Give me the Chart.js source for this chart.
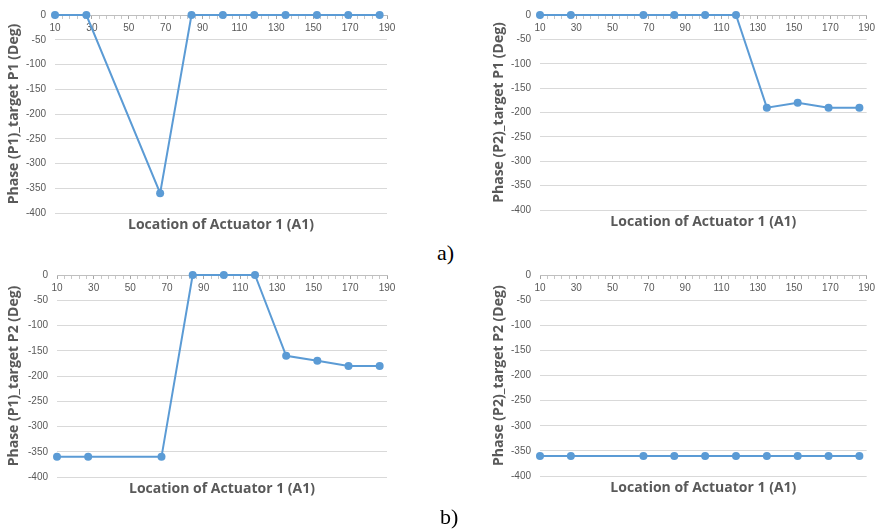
<!DOCTYPE html>
<html lang="en">
<head>
  <meta charset="UTF-8">
  <title>Phase vs actuator location</title>
  <script src="https://cdn.jsdelivr.net/npm/chart.js"></script>
  <style>
    body { margin: 0; background: #fff; }
    #wrap { position: relative; width: 879px; height: 531px; overflow: hidden; }
    canvas { position: absolute; }
    .tag { position: absolute; font-family: "Liberation Serif", serif; font-size: 22px; line-height: 1; color: #000; }
  </style>
</head>
<body>
  <div id="wrap">
    <canvas id="c1" width="410" height="240" style="left:0;top:0"></canvas>
    <canvas id="c2" width="439" height="240" style="left:440px;top:0"></canvas>
    <div class="tag" style="left:437px;top:242px">a)</div>
    <canvas id="c3" width="410" height="271" style="left:0;top:260px"></canvas>
    <canvas id="c4" width="439" height="271" style="left:440px;top:260px"></canvas>
    <div class="tag" style="left:440px;top:506px">b)</div>
  </div>

  <script>
    // Data
    var actuatorLocation = [10, 27, 67, 84, 101, 118, 135, 152, 169, 186];
    var phaseP1TargetP1 = [0, 0, -360, 0, 0, 0, 0, 0, 0, 0];
    var phaseP2TargetP1 = [0, 0, 0, 0, 0, 0, -190, -180, -190, -190];
    var phaseP1TargetP2 = [-360, -360, -360, 0, 0, 0, -160, -170, -180, -180];
    var phaseP2TargetP2 = [-360, -360, -360, -360, -360, -360, -360, -360, -360, -360];

    // Axis settings
    var xMin = 10, xMax = 190, xMajorStep = 20, xMinorStep = 4;
    var yMin = -400, yMax = 0, yStep = 50;
    var xTitle = 'Location of Actuator 1 (A1)';

    var blue = '#5B9BD5';
    var textGray = '#595959';

    var xTickValues = [];
    for (var v = xMin; v <= xMax; v += xMinorStep) xTickValues.push(v);

    function isMajor(v) {
      return (v - xMin) % xMajorStep === 0;
    }

    function makeChart(id, yTitle, values, pad, yWidth) {
      var points = actuatorLocation.map(function (x, i) { return { x: x, y: values[i] }; });
      return new Chart(document.getElementById(id), {
        type: 'line',
        data: {
          datasets: [{
            data: points,
            borderColor: blue,
            backgroundColor: blue,
            borderWidth: 2,
            pointRadius: 4,
            pointBorderWidth: 0,
            tension: 0,
            clip: false
          }]
        },
        options: {
          responsive: false,
          animation: false,
          layout: { padding: pad },
          plugins: {
            legend: { display: false },
            tooltip: { enabled: false },
            title: {
              display: true,
              text: xTitle,
              position: 'bottom',
              fullSize: false,
              color: textGray,
              font: { family: 'Open Sans', size: 14, weight: 'bold' },
              padding: { top: 4, bottom: 4 }
            }
          },
          scales: {
            x: {
              type: 'linear',
              position: { y: 0 },
              min: xMin,
              max: xMax,
              afterBuildTicks: function (s) {
                s.ticks = xTickValues.map(function (v) { return { value: v }; });
              },
              grid: {
                drawOnChartArea: false,
                drawTicks: true,
                tickLength: 3,
                tickColor: function (ctx) {
                  return ctx.tick && isMajor(ctx.tick.value) ? '#a6a6a6' : '#c8c8c8';
                }
              },
              border: { display: true, color: '#bfbfbf', width: 1 },
              ticks: {
                autoSkip: false,
                maxRotation: 0,
                minRotation: 0,
                padding: 4,
                color: textGray,
                font: { family: 'Liberation Sans', size: 10 },
                callback: function (v) { return isMajor(v) ? String(v) : ''; }
              }
            },
            y: {
              min: yMin,
              max: yMax,
              afterFit: function (s) { s.width = yWidth; },
              ticks: {
                stepSize: yStep,
                padding: 9,
                color: textGray,
                font: { family: 'Liberation Sans', size: 10 }
              },
              grid: { color: '#d9d9d9', drawTicks: false },
              border: { display: false },
              title: {
                display: true,
                text: yTitle,
                color: textGray,
                font: { family: 'Open Sans', size: 14, weight: 'bold' },
                padding: { top: 1, bottom: 1 }
              }
            }
          }
        }
      });
    }

    makeChart('c1', 'Phase (P1)_target P1 (Deg)', phaseP1TargetP1,
      { left: 5, right: 23, top: 10, bottom: 2.2 }, 50);
    makeChart('c2', 'Phase (P2)_target P1 (Deg)', phaseP2TargetP1,
      { left: 50, right: 9, top: 9, bottom: 5.2 }, 50);
    makeChart('c3', 'Phase (P1)_target P2 (Deg)', phaseP1TargetP2,
      { left: 5, right: 23, top: 14.7, bottom: 29.2 }, 52);
    makeChart('c4', 'Phase (P2)_target P2 (Deg)', phaseP2TargetP2,
      { left: 50, right: 11.3, top: 15.3, bottom: 30.2 }, 50);
  </script>
</body>
</html>
